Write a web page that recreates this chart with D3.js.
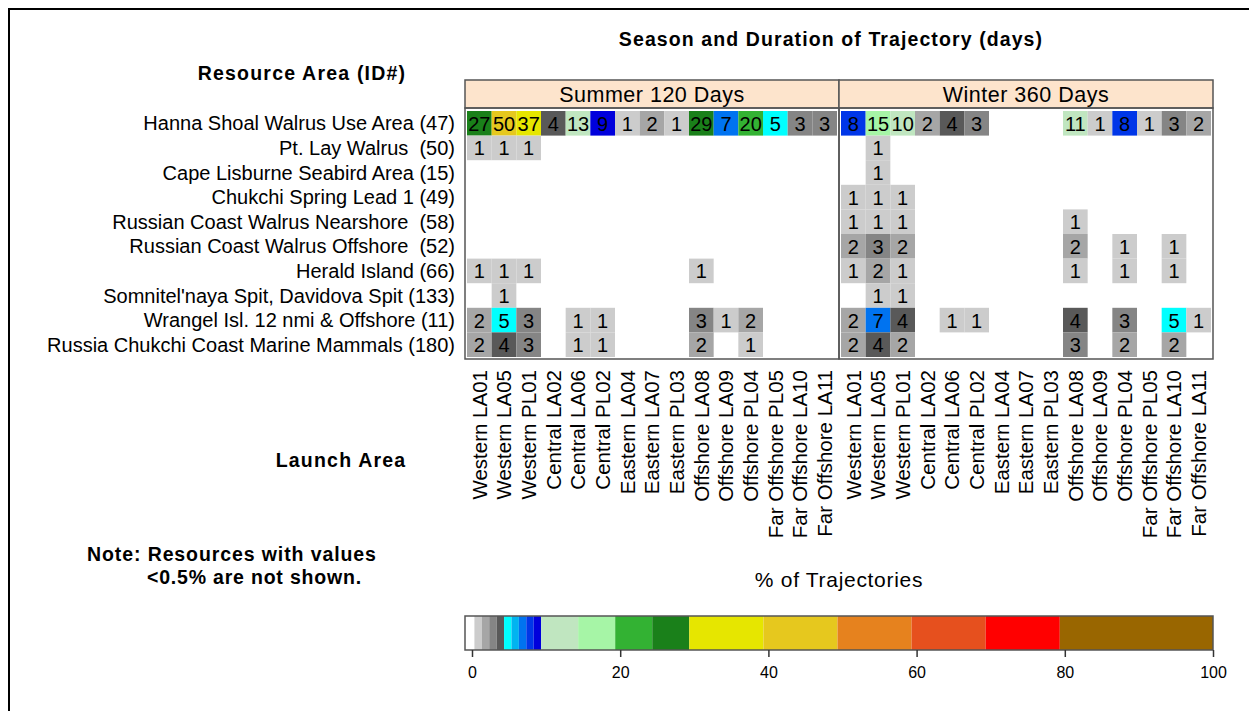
<!DOCTYPE html>
<html><head><meta charset="utf-8">
<script src="https://cdn.jsdelivr.net/npm/d3@7"></script>
<style>body{margin:0;background:#fff}svg{display:block}text{font-family:"Liberation Sans",Arial,sans-serif;fill:#000}</style>
</head><body><svg id="c" width="1249" height="711"></svg>
<script>
const resources = ["Hanna Shoal Walrus Use Area (47)","Pt. Lay Walrus  (50)","Cape Lisburne Seabird Area (15)","Chukchi Spring Lead 1 (49)","Russian Coast Walrus Nearshore  (58)","Russian Coast Walrus Offshore  (52)","Herald Island (66)","Somnitel'naya Spit, Davidova Spit (133)","Wrangel Isl. 12 nmi & Offshore (11)","Russia Chukchi Coast Marine Mammals (180)"];
const launchAreas = ["Western LA01","Western LA05","Western PL01","Central LA02","Central LA06","Central PL02","Eastern LA04","Eastern LA07","Eastern PL03","Offshore LA08","Offshore LA09","Offshore PL04","Far Offshore PL05","Far Offshore LA10","Far Offshore LA11"];
const seasons = ["Summer 120 Days","Winter 360 Days"];
const _ = null;
const summerValues = [
  [27,49.6,37,4,13,9,1,2,1,29,7,20,5,3,3],
  [1,1,1,_,_,_,_,_,_,_,_,_,_,_,_],
  [_,_,_,_,_,_,_,_,_,_,_,_,_,_,_],
  [_,_,_,_,_,_,_,_,_,_,_,_,_,_,_],
  [_,_,_,_,_,_,_,_,_,_,_,_,_,_,_],
  [_,_,_,_,_,_,_,_,_,_,_,_,_,_,_],
  [1,1,1,_,_,_,_,_,_,1,_,_,_,_,_],
  [_,1,_,_,_,_,_,_,_,_,_,_,_,_,_],
  [2,5,3,_,1,1,_,_,_,3,1,2,_,_,_],
  [2,4,3,_,1,1,_,_,_,2,_,1,_,_,_]
];
const winterValues = [
  [8,15,10,2,4,3,_,_,_,11,1,8,1,3,2],
  [_,1,_,_,_,_,_,_,_,_,_,_,_,_,_],
  [_,1,_,_,_,_,_,_,_,_,_,_,_,_,_],
  [1,1,1,_,_,_,_,_,_,_,_,_,_,_,_],
  [1,1,1,_,_,_,_,_,_,1,_,_,_,_,_],
  [2,3,2,_,_,_,_,_,_,2,_,1,_,1,_],
  [1,2,1,_,_,_,_,_,_,1,_,1,_,1,_],
  [_,1,1,_,_,_,_,_,_,_,_,_,_,_,_],
  [2,7,4,_,1,1,_,_,_,4,_,3,_,5,1],
  [2,4,2,_,_,_,_,_,_,3,_,2,_,2,_]
];
const colorBreaks = [0,1,2,3,4,5,6,7,8,9,10,15,20,25,30,40,50,60,70,80,100];
const colorList = ["#ffffff","#cccccc","#a6a6a6","#858585","#595959","#00ffff","#00b4f0","#0073f0","#0036e8","#0000dc","#c0e6c0","#a6f5a6","#33b233","#1a801a","#e6e600","#e6c81e","#e6821e","#e6501e","#ff0000","#996600"];
const colorTicks = [0,20,40,60,80,100];

const svg = d3.select("#c");
const F = '"Liberation Sans",Arial,sans-serif';
svg.append("path").attr("d","M9,711 V9 H1249").attr("fill","none").attr("stroke","#000").attr("stroke-width",2);

const color = d3.scaleThreshold().domain(colorBreaks.slice(1,-1)).range(colorList);
const y = d3.scaleBand().domain(resources).range([111,357]);
const panels = [
  {name:seasons[0], vals:summerValues, x:d3.scaleBand().domain(launchAreas).range([467,837]), x0:465, x1:839},
  {name:seasons[1], vals:winterValues, x:d3.scaleBand().domain(launchAreas).range([841,1211]), x0:839, x1:1213}
];

panels.forEach(p=>{
  const g = svg.append("g");
  g.append("rect").attr("x",p.x0).attr("y",80).attr("width",p.x1-p.x0).attr("height",28)
    .attr("fill","#fde4cc").attr("stroke","#555").attr("stroke-width",1.5);
  g.append("text").attr("x",(p.x0+p.x1)/2).attr("y",94).attr("dy","0.36em").attr("text-anchor","middle")
    .style("font-size","21.5px").style("letter-spacing","0.5px").text(p.name);
  const cells = [];
  p.vals.forEach((row,i)=>row.forEach((v,j)=>{ if(v!==null) cells.push({r:resources[i],c:launchAreas[j],v}); }));
  g.selectAll("rect.cell").data(cells).join("rect").attr("class","cell")
    .attr("x",d=>p.x(d.c)).attr("y",d=>y(d.r)).attr("width",p.x.bandwidth()).attr("height",y.bandwidth())
    .attr("fill",d=>color(d.v));
  g.selectAll("text.val").data(cells).join("text").attr("class","val")
    .attr("x",d=>p.x(d.c)+p.x.bandwidth()/2).attr("y",d=>y(d.r)+y.bandwidth()/2).attr("dy","0.37em")
    .attr("text-anchor","middle").style("font-size","20px").text(d=>Math.round(d.v));
  g.append("rect").attr("x",p.x0).attr("y",108).attr("width",p.x1-p.x0).attr("height",251)
    .attr("fill","none").attr("stroke","#555").attr("stroke-width",1.5);
  g.selectAll("text.col").data(launchAreas).join("text").attr("class","col")
    .attr("transform",d=>`translate(${p.x(d)+p.x.bandwidth()/2},370) rotate(-90)`)
    .attr("dy","0.35em").attr("text-anchor","end").style("font-size","20.5px").text(d=>d);
});

svg.selectAll("text.row").data(resources).join("text").attr("class","row")
  .attr("x",455).attr("y",d=>y(d)+y.bandwidth()/2).attr("dy","0.35em").attr("text-anchor","end")
  .style("font-size","20px").style("white-space","pre").text(d=>d);

const lab = (t,x,yy,size,bold,anchor,ls)=>svg.append("text").attr("x",x).attr("y",yy)
  .attr("text-anchor",anchor||"middle").style("font-size",size+"px").style("font-weight",bold?"bold":"normal")
  .style("letter-spacing",(ls||0)+"px").text(t);
lab("Season and Duration of Trajectory (days)",831,46,19.5,true,"middle",1.1);
lab("Resource Area (ID#)",302,80,19.5,true,"middle",1.2);
lab("Launch Area",341,467,19.5,true,"middle",1.2);
lab("Note: Resources with values",87,561,19.5,true,"start",0.9);
lab("<0.5% are not shown.",147,584,19.5,true,"start",0.8);
lab("% of Trajectories",839,587,21,false,"middle",0.7);

// colorbar
const cx = d3.scaleLinear().domain([0,100]).range([472,1213]);
const segs = colorList.map((c,i)=>({a:colorBreaks[i],b:colorBreaks[i+1],c}));
const shift = -5;
svg.append("g").selectAll("rect").data(segs).join("rect")
  .attr("x",d=>d.a===0?465:cx(d.a)+shift)
  .attr("width",d=>(d.b===100?cx(d.b):cx(d.b)+shift)-(d.a===0?465:cx(d.a)+shift))
  .attr("y",616).attr("height",34).attr("fill",d=>d.c);
svg.append("rect").attr("x",465).attr("y",616).attr("width",cx(100)-465).attr("height",34)
  .attr("fill","none").attr("stroke","#555").attr("stroke-width",1.5);
const ax = svg.append("g").attr("transform","translate(0,650)")
  .call(d3.axisBottom(cx).tickValues(colorTicks).tickSize(7).tickPadding(10).tickFormat(d3.format("d")));
ax.select(".domain").remove();
ax.selectAll("line").attr("stroke","#333").attr("stroke-width",1.5);
ax.selectAll("text").style("font-size","16px").style("font-family",F).attr("fill","#000");
</script></body></html>
